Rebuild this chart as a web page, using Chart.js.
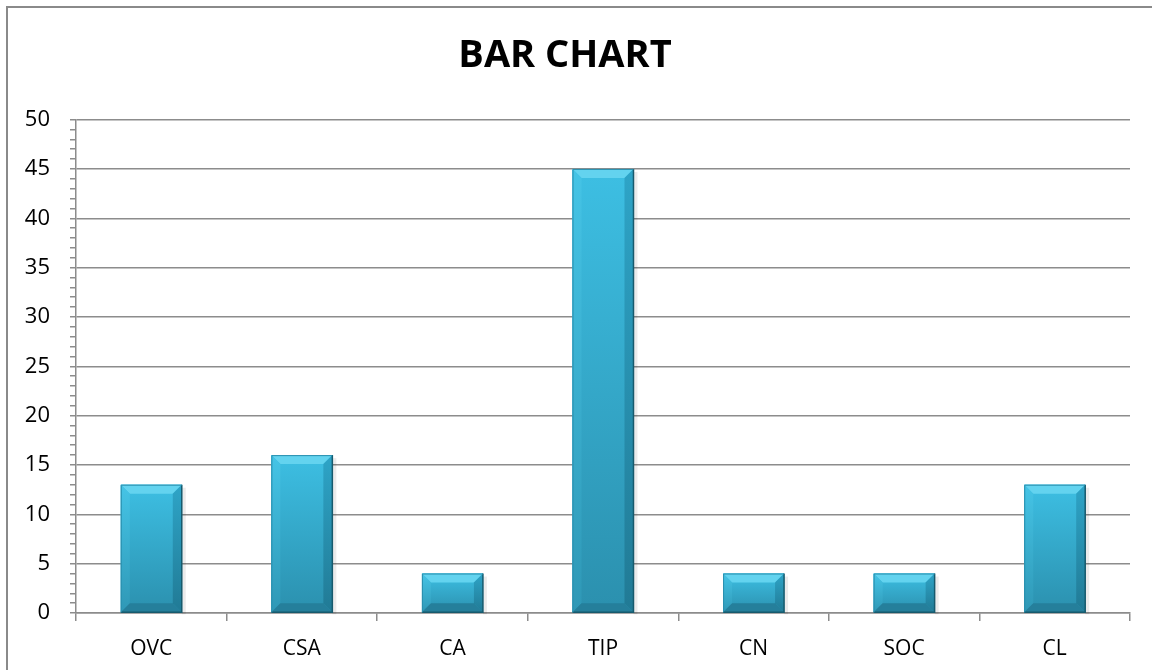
<!DOCTYPE html>
<html>
<head>
<meta charset="utf-8">
<script src="https://cdn.jsdelivr.net/npm/chart.js@4"></script>
<style>
    html, body { margin: 0; padding: 0; background: #fff; overflow: hidden; }
    #wrap { position: relative; width: 1152px; height: 670px; }
    #frame {
        position: absolute; left: 6px; top: 6px; width: 1200px; height: 700px;
        border: 2px solid #8a8a8a; box-sizing: border-box;
    }
    canvas { position: absolute; left: 0; top: 0; }
</style>
</head>
<body>
<div id="wrap">
    <div id="frame"></div>
    <canvas id="barChart" width="1152" height="670"></canvas>
</div>
<script>
const categories = ["OVC", "CSA", "CA", "TIP", "CN", "SOC", "CL"];
const values = [13, 16, 4, 45, 4, 4, 13];
const yTicks = [0, 5, 10, 15, 20, 25, 30, 35, 40, 45, 50];

const FONT = "'Open Sans', 'Noto Sans', sans-serif";
const GRID = '#8c8c8c';

// Draw the bevelled Excel-like bar look on top of each bar element
const bevelPlugin = {
    id: 'bevel',
    afterDatasetsDraw(chart) {
        const ctx = chart.ctx;
        const meta = chart.getDatasetMeta(0);
        meta.data.forEach(bar => {
            const p = bar.getProps(['x', 'y', 'base', 'width'], true);
            const l = p.x - p.width / 2, r = p.x + p.width / 2;
            const t = p.y, b = p.base;
            const h = b - t;
            const bv = Math.min(9, h / 3);

            ctx.save();
            // soft shadow
            ctx.fillStyle = 'rgba(0,0,0,0.08)';
            ctx.fillRect(r, t + 3, 4, h - 1);

            // body gradient
            const g = ctx.createLinearGradient(0, t, 0, b);
            g.addColorStop(0, '#3dbfe3');
            g.addColorStop(1, '#2b90ae');
            ctx.fillStyle = g;
            ctx.fillRect(l, t, r - l, h);

            // top bevel
            ctx.fillStyle = '#63d3ef';
            ctx.beginPath();
            ctx.moveTo(l, t); ctx.lineTo(r, t);
            ctx.lineTo(r - bv, t + bv); ctx.lineTo(l + bv, t + bv);
            ctx.closePath(); ctx.fill();

            // left bevel
            const gl = ctx.createLinearGradient(0, t, 0, b);
            gl.addColorStop(0, '#45c4e6');
            gl.addColorStop(1, '#2f98b6');
            ctx.fillStyle = gl;
            ctx.beginPath();
            ctx.moveTo(l, t); ctx.lineTo(l + bv, t + bv);
            ctx.lineTo(l + bv, b - bv); ctx.lineTo(l, b);
            ctx.closePath(); ctx.fill();

            // right bevel
            const gr = ctx.createLinearGradient(0, t, 0, b);
            gr.addColorStop(0, '#2ea4c7');
            gr.addColorStop(1, '#217a95');
            ctx.fillStyle = gr;
            ctx.beginPath();
            ctx.moveTo(r, t); ctx.lineTo(r - bv, t + bv);
            ctx.lineTo(r - bv, b - bv); ctx.lineTo(r, b);
            ctx.closePath(); ctx.fill();

            // bottom bevel
            ctx.fillStyle = '#257f9b';
            ctx.beginPath();
            ctx.moveTo(l, b); ctx.lineTo(l + bv, b - bv);
            ctx.lineTo(r - bv, b - bv); ctx.lineTo(r, b);
            ctx.closePath(); ctx.fill();

            // dark outline on the right and bottom
            ctx.strokeStyle = '#175a6d';
            ctx.lineWidth = 1.5;
            ctx.beginPath();
            ctx.moveTo(r, t); ctx.lineTo(r, b); ctx.lineTo(l, b);
            ctx.stroke();
            ctx.strokeStyle = '#2a8fae';
            ctx.lineWidth = 1;
            ctx.beginPath();
            ctx.moveTo(l + 0.5, b); ctx.lineTo(l + 0.5, t + 0.5); ctx.lineTo(r, t + 0.5);
            ctx.stroke();
            ctx.restore();
        });
    }
};

// every integer step gets a small tick, gridlines only at the labelled values
const minorSteps = [];
for (let v = 0; v <= 50; v++) minorSteps.push(v);

new Chart(document.getElementById('barChart'), {
    type: 'bar',
    data: {
        labels: categories,
        datasets: [{
            data: values,
            backgroundColor: '#35abcf',
            borderWidth: 0,
            barPercentage: 0.81,
            categoryPercentage: 0.5
        }]
    },
    options: {
        responsive: false,
        animation: false,
        devicePixelRatio: 1,
        layout: { padding: { left: 0, right: 22, top: 0, bottom: 0 } },
        plugins: {
            legend: { display: false },
            tooltip: { enabled: false },
            title: {
                display: true,
                text: 'BAR CHART',
                color: '#000',
                font: { family: FONT, size: 38, weight: 'bold', lineHeight: 1.2 },
                padding: { top: 33, bottom: 41 }
            }
        },
        scales: {
            x: {
                grid: {
                    offset: true,
                    drawOnChartArea: false,
                    color: GRID,
                    lineWidth: 1.5,
                    tickLength: 8
                },
                border: { color: GRID, width: 1.5 },
                ticks: {
                    color: '#000',
                    font: { family: FONT, size: 21 },
                    padding: 15
                },
                afterFit(scale) { scale.height = 57; }
            },
            y: {
                min: 0,
                max: 50,
                afterBuildTicks(scale) {
                    scale.ticks = minorSteps.map(v => ({ value: v }));
                },
                grid: {
                    color: ctx => (yTicks.includes(ctx.tick.value) ? GRID : 'rgba(0,0,0,0)'),
                    tickColor: GRID,
                    lineWidth: 1.5,
                    tickLength: 6
                },
                border: { color: GRID, width: 1.5 },
                ticks: {
                    autoSkip: false,
                    color: '#000',
                    font: { family: FONT, size: 22 },
                    padding: 20,
                    callback: v => (yTicks.includes(v) ? String(v) : '')
                },
                afterFit(scale) { scale.width = 76; }
            }
        }
    },
    plugins: [bevelPlugin]
});
</script>
</body>
</html>
